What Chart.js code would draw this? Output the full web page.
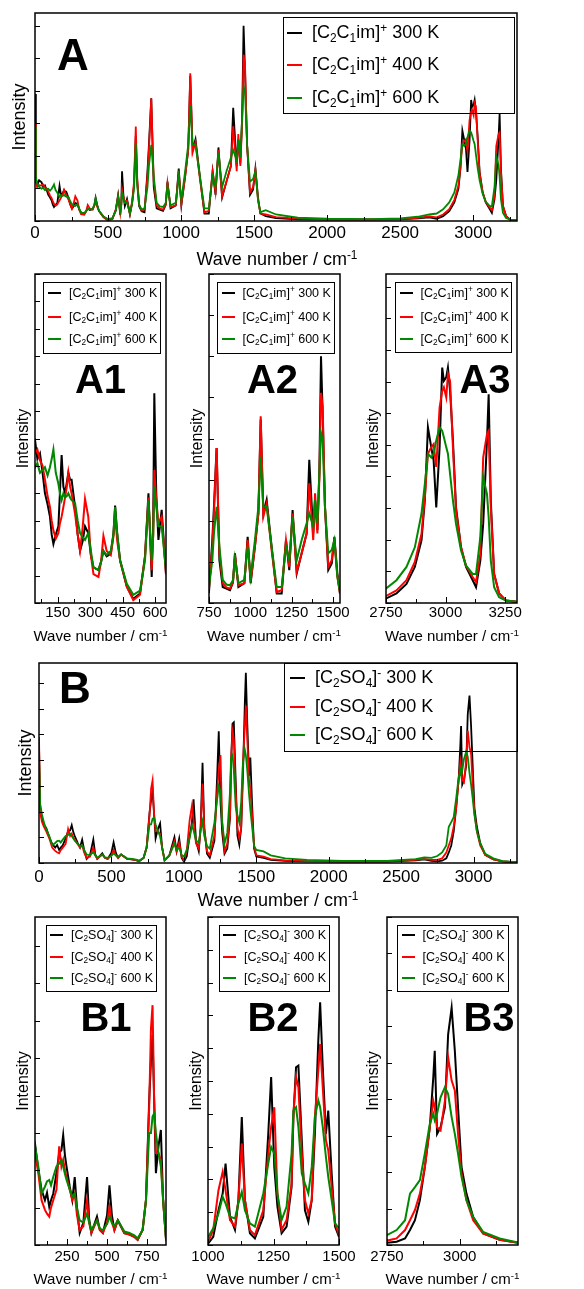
<!DOCTYPE html>
<html>
<head>
<meta charset="utf-8">
<script src="https://cdn.jsdelivr.net/npm/chart.js@4.4.0/dist/chart.umd.min.js"></script>
<style>
  body { margin: 0; background: #fff; width: 584px; height: 1289px; position: relative; overflow: hidden;
         font-family: "Liberation Sans", Arial, Helvetica, sans-serif; color: #000; }
  .box { position: absolute; }
  .txt { position: absolute; white-space: nowrap; line-height: 1.2; }
  .leg { position: absolute; border: 1.5px solid #000; box-sizing: border-box; }
  .smp { position: absolute; height: 2px; }
  sub { font-size: 0.66em; vertical-align: baseline; position: relative; top: 0.32em; }
  sup { font-size: 0.66em; vertical-align: baseline; position: relative; top: -0.55em; }
</style>
</head>
<body>
<script>
// [C2C1im]+ spectrum (panel A, A1-A3), arbitrary intensity units
const aWave = [0, 6, 15, 28, 45, 56, 68, 80, 91, 103, 114, 122, 130, 141, 153, 160, 168, 176, 184, 192,
  199, 207, 214, 230, 242, 253, 265, 276, 291, 303, 315, 338, 350, 361, 376, 395, 407, 415, 425, 438,
  469, 499, 530, 553, 569, 584, 591, 596, 605, 615, 630, 650, 665, 678, 690, 700, 713, 730, 750, 770,
  780, 796, 813, 833, 855, 877, 895, 907, 928, 964, 984, 1002, 1028, 1049, 1063, 1079, 1099, 1129, 1160, 1190,
  1216, 1236, 1256, 1281, 1311, 1341, 1357, 1381, 1392, 1406, 1418, 1428, 1438, 1452, 1472, 1493, 1509, 1527, 1543, 1580,
  1650, 1800, 2000, 2300, 2500, 2620, 2700, 2750, 2794, 2836, 2871, 2899, 2913, 2926, 2940, 2950, 2961, 2975, 2986, 2993,
  3003, 3010, 3019, 3031, 3044, 3065, 3086, 3114, 3128, 3146, 3158, 3174, 3181, 3190, 3204, 3225, 3253, 3297];
const aInt300 = [3.9, 1.3, 1.1, 1.25, 1.19, 1.05, 1.09, 0.95, 0.80, 0.72, 0.63, 0.50, 0.43, 0.50, 0.56, 0.80, 1.08, 0.85, 0.80, 0.88,
  0.95, 0.90, 0.90, 0.70, 0.50, 0.38, 0.45, 0.56, 0.51, 0.35, 0.26, 0.24, 0.30, 0.38, 0.34, 0.36, 0.50, 0.71, 0.50, 0.31,
  0.12, 0.03, 0.07, 0.34, 0.80, 0.19, 0.60, 1.53, 0.80, 0.46, 0.68, 0.21, 0.55, 1.10, 2.60, 1.20, 0.45, 0.30, 0.27, 1.53,
  2.34, 3.77, 1.04, 0.39, 0.35, 0.31, 0.50, 1.21, 0.39, 0.48, 1.61, 0.48, 1.37, 2.18, 4.46, 2.18, 2.51, 1.37, 0.23, 0.23,
  1.53, 0.80, 2.26, 0.72, 1.21, 1.69, 3.48, 1.69, 2.51, 1.77, 3.16, 6.00, 4.62, 2.34, 0.80, 0.96, 1.61, 0.72, 0.23, 0.15,
  0.09, 0.05, 0.04, 0.04, 0.05, 0.08, 0.11, 0.07, 0.15, 0.30, 0.57, 0.99, 1.62, 2.78, 2.46, 2.25, 1.51, 2.46, 3.72, 3.51,
  3.57, 3.72, 3.35, 2.57, 1.51, 0.88, 0.57, 0.36, 0.25, 0.67, 1.25, 2.57, 3.30, 1.62, 0.46, 0.15, 0.04, 0.02];
const aInt400 = [3.0, 1.2, 1.05, 1.1, 1.09, 1.12, 1.04, 1.00, 0.90, 0.78, 0.70, 0.60, 0.53, 0.47, 0.51, 0.58, 0.63, 0.70, 0.77, 0.85,
  0.95, 0.85, 0.80, 0.65, 0.50, 0.38, 0.55, 0.76, 0.63, 0.35, 0.21, 0.19, 0.30, 0.49, 0.38, 0.35, 0.48, 0.63, 0.45, 0.31,
  0.12, 0.02, 0.06, 0.34, 0.77, 0.24, 0.50, 0.97, 0.75, 0.58, 0.63, 0.21, 0.60, 1.20, 2.90, 1.30, 0.50, 0.32, 0.35, 1.37,
  2.18, 3.77, 1.21, 0.48, 0.38, 0.35, 0.50, 1.17, 0.43, 0.48, 1.53, 0.52, 1.37, 2.18, 4.54, 2.10, 2.42, 1.29, 0.27, 0.31,
  1.53, 0.88, 2.18, 0.76, 1.21, 1.69, 2.91, 1.53, 2.67, 1.69, 2.99, 5.11, 4.78, 2.34, 0.88, 1.04, 1.57, 0.64, 0.23, 0.20,
  0.12, 0.07, 0.05, 0.05, 0.06, 0.10, 0.14, 0.11, 0.20, 0.36, 0.65, 1.09, 1.67, 2.36, 2.46, 2.51, 2.15, 3.09, 3.35, 3.41,
  3.25, 3.62, 3.51, 2.46, 1.46, 0.88, 0.59, 0.41, 0.33, 0.78, 2.30, 2.67, 2.72, 1.51, 0.46, 0.15, 0.04, 0.02];
const aInt600 = [2.9, 1.35, 1.15, 1.05, 0.99, 1.02, 0.95, 0.97, 0.99, 0.93, 0.99, 1.05, 1.12, 0.95, 0.87, 0.80, 0.75, 0.80, 0.77, 0.78,
  0.80, 0.77, 0.75, 0.73, 0.60, 0.51, 0.48, 0.46, 0.51, 0.38, 0.26, 0.24, 0.30, 0.38, 0.35, 0.38, 0.50, 0.70, 0.50, 0.31,
  0.14, 0.06, 0.09, 0.31, 0.75, 0.31, 0.50, 0.85, 0.70, 0.56, 0.56, 0.24, 0.55, 1.00, 2.40, 1.10, 0.50, 0.35, 0.39, 1.04,
  1.69, 2.34, 1.37, 0.56, 0.45, 0.43, 0.55, 1.08, 0.48, 0.56, 1.37, 0.64, 1.53, 2.34, 3.56, 2.34, 2.34, 1.37, 0.39, 0.39,
  1.37, 1.04, 2.10, 1.04, 1.53, 1.94, 2.18, 1.86, 2.51, 1.94, 3.16, 4.13, 3.97, 2.34, 1.21, 1.29, 1.53, 0.64, 0.27, 0.33,
  0.20, 0.10, 0.07, 0.06, 0.08, 0.13, 0.20, 0.23, 0.36, 0.57, 0.88, 1.41, 1.88, 2.36, 2.30, 2.36, 2.57, 2.78, 2.72, 2.62,
  2.46, 2.36, 2.04, 1.62, 1.25, 0.83, 0.59, 0.46, 0.46, 1.04, 1.99, 1.72, 1.36, 0.67, 0.25, 0.09, 0.04, 0.02];

// [C2SO4]- spectrum (panel B, B1-B3), arbitrary intensity units
const bWave = [0, 8, 20, 35, 50, 71, 91, 112, 125, 139, 150, 164, 184, 201, 215, 226, 237, 247, 267, 283,
  298, 312, 329, 352, 375, 388, 402, 437, 455, 474, 500, 515, 530, 546, 567, 608, 640, 670, 691, 722,
  743, 763, 774, 784, 794, 805, 821, 836, 850, 867, 900, 935, 950, 968, 985, 1001, 1020, 1040, 1056, 1067,
  1084, 1103, 1116, 1129, 1141, 1160, 1179, 1211, 1230, 1241, 1253, 1265, 1281, 1300, 1319, 1326, 1336, 1345, 1358, 1370,
  1383, 1396, 1408, 1421, 1428, 1438, 1450, 1459, 1472, 1485, 1500, 1550, 1600, 1700, 1850, 2100, 2400, 2600, 2660, 2710,
  2750, 2783, 2812, 2829, 2846, 2863, 2880, 2897, 2909, 2914, 2922, 2934, 2949, 2960, 2972, 2983, 2994, 3006, 3023, 3046,
  3080, 3137, 3200, 3300];
const bInt300 = [4.6, 2.2, 1.7, 1.45, 1.36, 1.00, 0.74, 0.60, 0.70, 0.51, 0.60, 0.69, 0.96, 1.23, 1.27, 1.47, 1.20, 1.05, 0.78, 0.60,
  0.91, 0.50, 0.16, 0.30, 0.91, 0.35, 0.16, 0.38, 0.20, 0.16, 0.40, 0.80, 0.40, 0.20, 0.33, 0.16, 0.14, 0.11, 0.07, 0.20,
  0.60, 1.94, 2.46, 2.81, 1.94, 0.96, 1.32, 1.54, 0.60, 0.11, 0.30, 1.00, 0.45, 0.95, 0.20, 0.05, 0.25, 1.06, 1.57, 2.48,
  0.86, 0.46, 1.37, 3.90, 1.37, 0.36, 0.20, 0.86, 3.39, 5.12, 2.38, 1.17, 0.36, 0.56, 1.77, 3.90, 5.42, 5.47, 3.19, 1.06,
  0.71, 1.37, 3.39, 6.23, 7.40, 5.42, 3.39, 4.10, 2.18, 0.56, 0.25, 0.20, 0.12, 0.08, 0.06, 0.05, 0.05, 0.10, 0.14, 0.08,
  0.06, 0.09, 0.18, 0.41, 0.68, 1.23, 2.14, 3.23, 4.60, 5.33, 3.05, 3.23, 3.78, 5.78, 6.51, 5.33, 3.78, 2.14, 1.41, 0.77,
  0.32, 0.14, 0.06, 0.02];
const bInt400 = [4.9, 2.0, 1.6, 1.4, 1.23, 0.96, 0.60, 0.47, 0.42, 0.38, 0.50, 0.60, 0.74, 1.32, 1.05, 1.14, 1.00, 0.91, 0.74, 0.60,
  0.69, 0.40, 0.20, 0.25, 0.60, 0.30, 0.16, 0.33, 0.20, 0.16, 0.30, 0.51, 0.30, 0.20, 0.33, 0.16, 0.14, 0.11, 0.07, 0.20,
  0.60, 1.85, 2.89, 3.21, 1.94, 1.23, 1.23, 1.14, 0.60, 0.11, 0.28, 0.85, 0.45, 0.80, 0.25, 0.10, 0.46, 1.67, 2.23, 1.67,
  0.76, 0.56, 1.37, 3.09, 1.37, 0.46, 0.30, 1.06, 2.79, 3.60, 4.20, 1.57, 0.46, 0.76, 1.87, 4.00, 5.12, 4.81, 2.79, 1.37,
  0.96, 1.37, 3.90, 5.32, 6.13, 4.81, 3.19, 2.89, 1.77, 0.66, 0.30, 0.25, 0.15, 0.10, 0.07, 0.06, 0.06, 0.12, 0.16, 0.12,
  0.12, 0.18, 0.41, 0.68, 0.96, 1.41, 2.14, 3.23, 3.96, 3.78, 3.23, 3.14, 3.96, 5.15, 4.51, 4.24, 3.05, 1.96, 1.23, 0.68,
  0.32, 0.14, 0.06, 0.02];
const bInt600 = [4.1, 2.3, 1.9, 1.55, 1.32, 1.05, 0.69, 0.78, 0.85, 0.87, 0.80, 0.91, 1.05, 1.09, 1.14, 1.05, 0.95, 0.87, 0.74, 0.65,
  0.69, 0.50, 0.33, 0.30, 0.42, 0.30, 0.20, 0.33, 0.22, 0.20, 0.28, 0.38, 0.30, 0.25, 0.33, 0.18, 0.16, 0.13, 0.09, 0.20,
  0.60, 1.50, 1.50, 1.72, 1.76, 1.50, 1.23, 1.05, 0.60, 0.11, 0.30, 0.75, 0.50, 0.60, 0.30, 0.25, 0.51, 0.96, 1.47, 1.27,
  0.86, 0.81, 1.27, 1.62, 1.06, 0.66, 0.56, 1.57, 2.48, 2.99, 2.79, 1.57, 0.76, 1.17, 2.79, 4.10, 4.20, 3.60, 2.18, 1.87,
  1.57, 2.38, 3.90, 4.41, 4.20, 3.60, 2.69, 2.08, 1.37, 0.66, 0.51, 0.45, 0.30, 0.18, 0.12, 0.08, 0.08, 0.15, 0.22, 0.20,
  0.27, 0.41, 0.68, 1.41, 1.59, 1.78, 2.51, 3.32, 3.60, 3.42, 3.60, 4.05, 4.33, 4.14, 3.51, 3.05, 2.51, 1.87, 1.23, 0.77,
  0.36, 0.18, 0.07, 0.03];

const temps = ['300 K', '400 K', '600 K'];
const colors = ['#000000', '#ff0000', '#008800'];
const catA = '[C<sub>2</sub>C<sub>1</sub>im]<sup>+</sup>';
const catB = '[C<sub>2</sub>SO<sub>4</sub>]<sup>-</sup>';
const FONT = '"Liberation Sans", Arial, Helvetica, sans-serif';

// box round the plot area with inward tick marks
const frame = {
  id: 'frame',
  afterDatasetsDraw(chart) {
    const {ctx, chartArea: a, scales: {x, y}} = chart;
    ctx.save();
    ctx.strokeStyle = '#000';
    ctx.lineWidth = 1;
    ctx.beginPath();
    x.ticks.forEach(t => {
      const px = Math.round(x.getPixelForValue(t.value)) + 0.5;
      ctx.moveTo(px, a.bottom);
      ctx.lineTo(px, a.bottom - (t.label ? 6 : 4));
    });
    y.ticks.forEach(t => {
      const py = Math.round(y.getPixelForValue(t.value)) + 0.5;
      ctx.moveTo(a.left, py);
      ctx.lineTo(a.left + 5, py);
    });
    ctx.stroke();
    ctx.lineWidth = 1.5;
    ctx.strokeRect(a.left, a.top, a.right - a.left, a.bottom - a.top);
    ctx.restore();
  }
};

// tick values every `step` inside [min, max]
function tickList(min, max, step) {
  const out = [];
  for (let k = Math.ceil(min / step - 1e-9); k * step <= max + 1e-9; k++) {
    out.push({value: Math.round(k * step * 1000) / 1000});
  }
  return out;
}

function addText(html, cx, cy, size, bold) {
  const d = document.createElement('div');
  d.className = 'txt';
  d.innerHTML = html;
  d.style.fontSize = size + 'px';
  if (bold) d.style.fontWeight = 'bold';
  d.style.top = (cy - 0.59 * size) + 'px';
  d.style.left = cx + 'px';
  d.style.transform = 'translateX(-50%)';
  document.body.appendChild(d);
}

function addLegend(name, box, rows, sx, sw, tx, size) {
  const d = document.createElement('div');
  d.className = 'leg';
  d.style.left = box[0] + 'px';
  d.style.top = box[1] + 'px';
  d.style.width = (box[2] - box[0]) + 'px';
  d.style.height = (box[3] - box[1]) + 'px';
  document.body.appendChild(d);
  temps.forEach((t, i) => {
    const s = document.createElement('div');
    s.className = 'smp';
    s.style.background = colors[i];
    s.style.left = (box[0] + sx) + 'px';
    s.style.width = sw + 'px';
    s.style.top = (rows[i] - 1) + 'px';
    document.body.appendChild(s);
    const l = document.createElement('div');
    l.className = 'txt';
    l.innerHTML = name + ' ' + t;
    l.style.fontSize = size + 'px';
    l.style.left = (box[0] + tx) + 'px';
    l.style.top = (rows[i] - 0.59 * size) + 'px';
    document.body.appendChild(l);
  });
}

function makePanel(p) {
  const [L, T, R, B] = p.plot;
  const W = p.yw, padTop = 4, padRight = 30, xH = 34;
  const box = document.createElement('div');
  box.className = 'box';
  box.style.left = (L - W) + 'px';
  box.style.top = (T - padTop) + 'px';
  const cv = document.createElement('canvas');
  cv.width = R - L + W + padRight;
  cv.height = B - T + padTop + xH;
  box.appendChild(cv);
  document.body.appendChild(box);
  const fs = p.big ? 17 : 15;
  const ts = p.big ? 18 : 16;
  new Chart(cv, {
    type: 'line',
    data: {
      datasets: p.ints.map((v, i) => ({
        label: temps[i],
        data: p.wave.map((x, j) => ({x: x, y: v[j]})),
        borderColor: colors[i],
        borderWidth: p.big ? 1.8 : 2,
        pointRadius: 0,
        tension: 0,
        order: 3 - i
      }))
    },
    options: {
      responsive: false,
      animation: false,
      layout: {padding: {top: padTop, right: padRight, left: 0, bottom: 0}},
      plugins: {legend: {display: false}, tooltip: {enabled: false}},
      scales: {
        x: {
          type: 'linear', min: p.xMin, max: p.xMax,
          grid: {display: false, drawTicks: false},
          border: {display: false},
          afterBuildTicks: s => { s.ticks = tickList(p.xMin, p.xMax, p.xStep); },
          ticks: {
            autoSkip: false, maxRotation: 0,
            padding: p.tickPad, color: '#000', font: {family: FONT, size: fs},
            callback: v => (Math.abs(v % p.xLab) < 1e-6 ? String(v) : '')
          },
          afterFit: s => { s.height = xH; }
        },
        y: {
          type: 'linear', min: 0, max: p.yMax,
          grid: {display: false, drawTicks: false},
          border: {display: false},
          afterBuildTicks: s => { s.ticks = tickList(0, p.yMax, p.yStep); },
          ticks: {display: false},
          title: {
            display: true, text: 'Intensity', color: '#000',
            font: {family: FONT, size: ts},
            padding: {top: p.yTitle - (L - W) - ts * 0.6, bottom: 0}
          },
          afterFit: s => { s.width = W; }
        }
      }
    },
    plugins: [frame]
  });
}

const A = [aInt300, aInt400, aInt600];
const Bs = [bInt300, bInt400, bInt600];

makePanel({wave: aWave, ints: A, plot: [35, 13, 517, 221], yw: 35, big: true, yTitle: 20,
  xMin: 0, xMax: 3300, xStep: 250, xLab: 500, tickPad: 2, yMax: 6.39, yStep: 1});
makePanel({wave: aWave, ints: A, plot: [35, 274, 166, 603], yw: 35, yTitle: 24,
  xMin: 45, xMax: 650, xStep: 75, xLab: 150, tickPad: 1, yMax: 2.4, yStep: 0.2});
makePanel({wave: aWave, ints: A, plot: [209, 274, 340, 603], yw: 25, yTitle: 197.5,
  xMin: 750, xMax: 1543, xStep: 125, xLab: 250, tickPad: 1, yMax: 8, yStep: 1});
makePanel({wave: aWave, ints: A, plot: [386, 274, 517, 603], yw: 25, yTitle: 374,
  xMin: 2750, xMax: 3300, xStep: 125, xLab: 250, tickPad: 1, yMax: 5.2, yStep: 0.5});

makePanel({wave: bWave, ints: Bs, plot: [39, 663, 517, 863], yw: 39, big: true, yTitle: 26,
  xMin: 0, xMax: 3300, xStep: 250, xLab: 500, tickPad: 4, yMax: 7.78, yStep: 1});
makePanel({wave: bWave, ints: Bs, plot: [35, 917, 166, 1245], yw: 35, yTitle: 24,
  xMin: 50, xMax: 868, xStep: 125, xLab: 250, tickPad: 3, yMax: 4.39, yStep: 0.5});
makePanel({wave: bWave, ints: Bs, plot: [208, 917, 339, 1245], yw: 25, yTitle: 196.5,
  xMin: 1000, xMax: 1500, xStep: 125, xLab: 250, tickPad: 3, yMax: 10, yStep: 1});
makePanel({wave: bWave, ints: Bs, plot: [387, 917, 518, 1245], yw: 25, yTitle: 374,
  xMin: 2750, xMax: 3200, xStep: 125, xLab: 250, tickPad: 3, yMax: 9, yStep: 1});

// axis titles
const wn = 'Wave number / cm<sup>-1</sup>';
addText(wn, 277, 260, 18);
addText(wn, 278, 901, 18);
[[100.5, 636], [274, 636], [452, 636], [100.5, 1279], [273.5, 1279], [452.5, 1279]]
  .forEach(([cx, cy]) => addText(wn, cx, cy, 15));

// panel letters
addText('A', 73, 55, 44, true);
addText('B', 75, 688, 44, true);
addText('A1', 100.5, 379, 40, true);
addText('A2', 272.5, 379, 40, true);
addText('A3', 485, 379, 40, true);
addText('B1', 106, 1017, 40, true);
addText('B2', 273, 1017, 40, true);
addText('B3', 489, 1017, 40, true);

// legends
addLegend(catA, [283, 17, 515, 114], [33, 65, 98], 4, 15, 29, 18);
addLegend(catA, [43, 282, 161, 354], [293, 317, 339], 5, 13, 26, 12.5);
addLegend(catA, [217, 282, 335, 354], [293, 317, 339], 4.5, 13, 25.5, 12.5);
addLegend(catA, [395, 282, 512, 353], [293, 317, 339], 4.5, 13, 25.5, 12.5);
addLegend(catB, [284, 663, 518, 752], [678, 707, 735], 6, 15, 31, 18);
addLegend(catB, [46, 925, 157, 992], [935, 957, 978], 4, 13, 25, 12.5);
addLegend(catB, [219, 925, 330, 992], [935, 957, 978], 4, 13, 25, 12.5);
addLegend(catB, [397, 925, 509, 992], [935, 957, 978], 4.5, 13, 25.5, 12.5);
</script>
</body>
</html>
